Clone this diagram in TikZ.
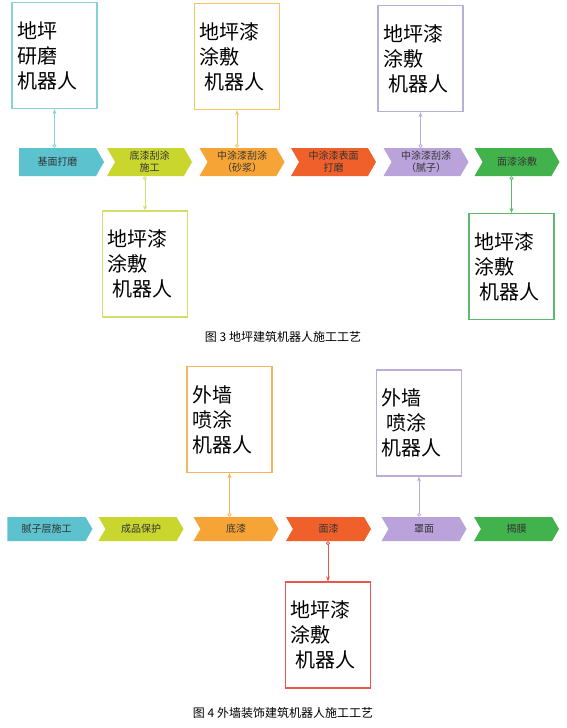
\documentclass[tikz,border=0pt]{standalone}
\usepackage{fontspec}
\newfontfamily\cjk{Noto Sans CJK SC}
\usetikzlibrary{arrows.meta,shapes.symbols}
\definecolor{ink}{HTML}{333333}
\definecolor{tealstep}{HTML}{5BC2CE}
\definecolor{limestep}{HTML}{C8D62E}
\definecolor{orangestep}{HTML}{F7A436}
\definecolor{redstep}{HTML}{F0602A}
\definecolor{lilacstep}{HTML}{B9A3DA}
\definecolor{greenstep}{HTML}{42B34C}
\definecolor{tealedge}{HTML}{86D2D8}
\definecolor{limeedge}{HTML}{D2DE6E}
\definecolor{goldedge}{HTML}{F5C566}
\definecolor{lilacedge}{HTML}{BBAED6}
\definecolor{greenedge}{HTML}{5DB96C}
\definecolor{orangeedge}{HTML}{F5B45E}
\definecolor{rededge}{HTML}{E8564C}
\tikzset{
  every node/.style={font=\cjk,text=ink},
  stage/.style={signal,signal to=east,signal from=west,signal pointer angle=120,fill=#1,draw=none,minimum width=85pt,minimum height=28pt,inner sep=1pt,align=center,font=\cjk\fontsize{10}{12}\selectfont},
  firststage/.style={stage=#1,signal from=nowhere},
  robot/.style={draw=#1,line width=1.2pt,fill=white,minimum height=106pt,text width=75pt,inner sep=5pt,align=left,text=black,font=\cjk\fontsize{20}{25}\selectfont},
  link/.style={draw=#1,line width=0.8pt,{Circle[open,length=4pt,width=4pt]}-{Stealth[length=5pt,width=4pt]}},
  caption/.style={text=black,font=\cjk\fontsize{12}{14}\selectfont}
}
\begin{document}
\begin{tikzpicture}[x=1pt,y=-1pt]
  \useasboundingbox (0,0) rectangle (566,728);

  % figure 3
  \node[firststage=tealstep] (f1) at (57.5,162) {基面打磨};
  \node[stage=limestep] (f2) at (149.5,162) {底漆刮涂\\施工};
  \node[stage=orangestep] (f3) at (242,162) {中涂漆刮涂\\（砂浆）};
  \node[stage=redstep] (f4) at (333.5,162) {中涂漆表面\\打磨};
  \node[stage=lilacstep] (f5) at (426,162) {中涂漆刮涂\\（腻子）};
  \node[stage=greenstep] (f6) at (517,162) {面漆涂敷};

  \node[robot=tealedge] (grind) at (54.5,55.5) {地坪\\研磨\\机器人};
  \node[robot=goldedge] (coatA) at (237,56.5) {地坪漆\\涂敷\\\hspace*{5pt}机器人};
  \node[robot=lilacedge] (coatB) at (420.5,58.5) {地坪漆\\涂敷\\\hspace*{5pt}机器人};
  \node[robot=limeedge] (coatC) at (145,264) {地坪漆\\涂敷\\\hspace*{5pt}机器人};
  \node[robot=greenedge] (coatD) at (511.5,266.5) {地坪漆\\涂敷\\\hspace*{5pt}机器人};

  \draw[link=tealedge] (grind.south |- f1.north) -- (grind.south);
  \draw[link=goldedge] (coatA.south |- f3.north) -- (coatA.south);
  \draw[link=lilacedge] (coatB.south |- f5.north) -- (coatB.south);
  \draw[link=limeedge] (coatC.north |- f2.south) -- (coatC.north);
  \draw[link=greenedge] (coatD.north |- f6.south) -- (coatD.north);

  \node[caption] (cap3) at (283,337) {图 3 地坪建筑机器人施工工艺};

  % figure 4
  \node[firststage=tealstep,minimum height=24pt] (w1) at (46.5,529) {腻子层施工};
  \node[stage=limestep,minimum height=24pt] (w2) at (141,529) {成品保护};
  \node[stage=orangestep,minimum height=24pt] (w3) at (236,529) {底漆};
  \node[stage=redstep,minimum height=24pt] (w4) at (328.5,529) {面漆};
  \node[stage=lilacstep,minimum height=24pt] (w5) at (424,529) {罩面};
  \node[stage=greenstep,minimum height=24pt] (w6) at (516.5,529) {揭膜};

  \node[robot=orangeedge] (sprayA) at (229.5,419.5) {外墙\\喷涂\\机器人};
  \node[robot=lilacedge] (sprayB) at (419,423) {外墙\\\hspace*{5pt}喷涂\\机器人};
  \node[robot=rededge] (coatE) at (328,635) {地坪漆\\涂敷\\\hspace*{5pt}机器人};

  \draw[link=orangeedge] (sprayA.south |- w3.north) -- (sprayA.south);
  \draw[link=lilacedge] (sprayB.south |- w5.north) -- (sprayB.south);
  \draw[link=rededge] (coatE.north |- w4.south) -- (coatE.north);

  \node[caption] (cap4) at (283,713) {图 4 外墙装饰建筑机器人施工工艺};
\end{tikzpicture}
\end{document}
